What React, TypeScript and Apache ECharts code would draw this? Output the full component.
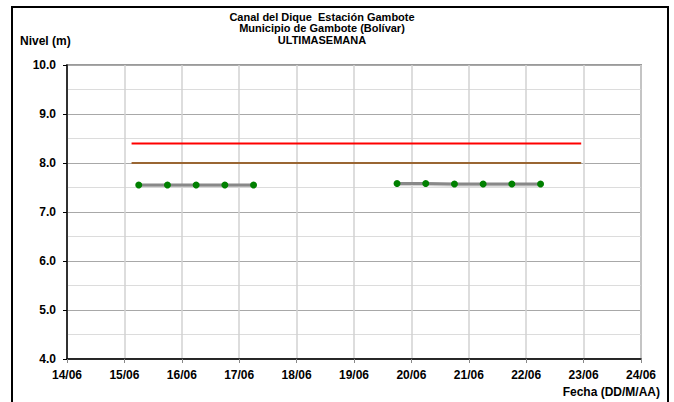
import React, { useEffect, useRef } from "react";
import * as echarts from "echarts";

const DAY = 86400000;
const AXIS_START = "2023-06-14 00:00";
const AXIS_END = "2023-06-24 00:00";

const titleLines = [
  "Canal del Dique  Estación Gambote",
  "Municipio de Gambote (Bolívar)",
  "ULTIMASEMANA",
];

const group1Times = ["2023-06-15 06:00", "2023-06-15 18:00", "2023-06-16 06:00", "2023-06-16 18:00", "2023-06-17 06:00"];
const group1Values = [7.55, 7.55, 7.55, 7.55, 7.55];

const group2Times = ["2023-06-19 18:00", "2023-06-20 06:00", "2023-06-20 18:00", "2023-06-21 06:00", "2023-06-21 18:00", "2023-06-22 06:00"];
const group2Values = [7.58, 7.58, 7.57, 7.57, 7.57, 7.57];

const thresholdTimes = ["2023-06-15 03:00", "2023-06-22 23:00"];
const redLevel = 8.4;
const brownLevel = 8.0;

function toMs(s: string): number {
  const [d, t] = s.split(" ");
  const [y, m, dd] = d.split("-").map(Number);
  const [hh, mm] = t.split(":").map(Number);
  return Date.UTC(y, m - 1, dd, hh, mm);
}

function pad(n: number) {
  return n < 10 ? "0" + n : "" + n;
}

const FONT = "Liberation Sans, Arial, sans-serif";

export default function App() {
  const ref = useRef<HTMLDivElement>(null);
  useEffect(() => {
    document.body.style.margin = "0";
    if (!ref.current) return;
    const chart = echarts.init(ref.current, null, { renderer: "svg" });
    const pts1 = group1Times.map((t, i) => [toMs(t), group1Values[i]]);
    const pts2 = group2Times.map((t, i) => [toMs(t), group2Values[i]]);
    const red = thresholdTimes.map((t) => [toMs(t), redLevel]);
    const brown = thresholdTimes.map((t) => [toMs(t), brownLevel]);
    const shadowSeries = (data: number[][]) => ({
      type: "line",
      data,
      symbol: "none",
      lineStyle: { color: "#d4d4d4", width: 3 },
      z: 4,
      silent: true,
    });
    const dataSeries = (data: number[][]) => ({
      type: "line",
      data,
      symbol: "circle",
      symbolSize: 7,
      itemStyle: { color: "#008000" },
      lineStyle: { color: "#888888", width: 3 },
      z: 5,
    });
    const shifted = (pts: number[][]) => pts.map((p) => [p[0], p[1] - 0.025]);
    chart.setOption({
      animation: false,
      grid: {
        left: 67,
        top: 65,
        width: 574,
        height: 294,
        show: true,
        borderColor: "#9a9a9a",
        borderWidth: 2,
      },
      xAxis: {
        type: "value",
        min: toMs(AXIS_START),
        max: toMs(AXIS_END),
        interval: DAY,
        axisLine: { show: true, onZero: false, lineStyle: { color: "#000", width: 1.5 } },
        axisTick: { show: true, length: 4, lineStyle: { color: "#888" } },
        splitLine: { show: true, lineStyle: { color: "#d2d2d2", width: 1.5 } },
        axisLabel: {
          color: "#000",
          fontFamily: FONT,
          fontWeight: "bold",
          fontSize: 12,
          margin: 10,
          formatter: (v: number) => {
            const d = new Date(v);
            return pad(d.getUTCDate()) + "/" + pad(d.getUTCMonth() + 1);
          },
        },
      },
      yAxis: {
        type: "value",
        min: 4,
        max: 10,
        interval: 1,
        axisLine: { show: true, lineStyle: { color: "#000", width: 1.5 } },
        axisTick: { show: true, length: 4, lineStyle: { color: "#000" } },
        splitLine: { show: true, lineStyle: { color: "#a8a8a8", width: 1.2 } },
        minorTick: { show: false, splitNumber: 2 },
        minorSplitLine: { show: true, lineStyle: { color: "#dcdcdc", width: 1.2 } },
        axisLabel: {
          color: "#000",
          fontFamily: FONT,
          fontWeight: "bold",
          fontSize: 12,
          margin: 11,
          formatter: (v: number) => v.toFixed(1),
        },
      },
      series: [
        {
          type: "line",
          data: red,
          symbol: "none",
          lineStyle: { color: "#ff0000", width: 2 },
          z: 3,
        },
        {
          type: "line",
          data: brown,
          symbol: "none",
          lineStyle: { color: "#996633", width: 2 },
          z: 3,
        },
        shadowSeries(shifted(pts1)),
        shadowSeries(shifted(pts2)),
        dataSeries(pts1),
        dataSeries(pts2),
      ],
      graphic: [
        {
          type: "rect",
          shape: { x: 12, y: 7, width: 656, height: 420 },
          style: { fill: "none", stroke: "#000", lineWidth: 2 },
          silent: true,
        },
        {
          type: "text",
          x: 322,
          y: 11,
          style: {
            text: titleLines.join("\n"),
            fontFamily: FONT,
            fontWeight: "bold",
            fontSize: 11,
            lineHeight: 11.5,
            align: "center",
            fill: "#000",
          },
        },
        {
          type: "text",
          x: 20,
          y: 35,
          style: {
            text: "Nivel (m)",
            fontFamily: FONT,
            fontWeight: "bold",
            fontSize: 12,
            fill: "#000",
          },
        },
        {
          type: "text",
          x: 660,
          y: 386,
          style: {
            text: "Fecha (DD/M/AA)",
            fontFamily: FONT,
            fontWeight: "bold",
            fontSize: 12,
            align: "right",
            fill: "#000",
          },
        },
      ],
    });
    return () => chart.dispose();
  }, []);
  return <div ref={ref} style={{ width: 674, height: 402 }} />;
}
